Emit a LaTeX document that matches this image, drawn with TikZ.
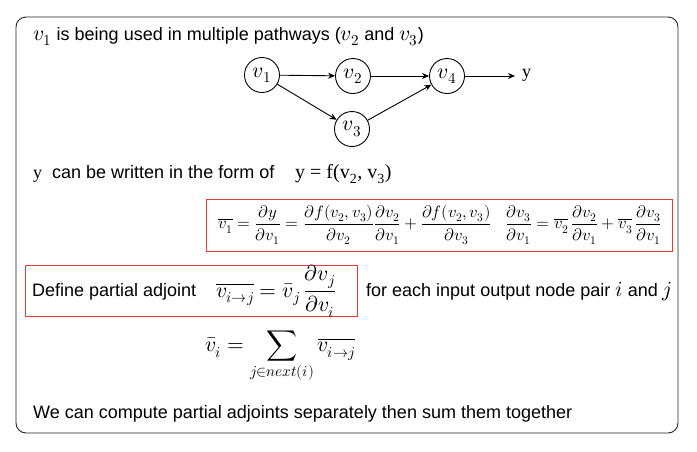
\documentclass[tikz,border=0pt]{standalone}
\usepackage{amsmath}
\usepackage{fontspec}
\usepackage{unicode-math}
\setmainfont{Liberation Sans}
\setmathfont{Latin Modern Math}[Scale=1.2]
\newfontfamily\serifrm{Liberation Serif}
\usepackage{tikz}
\usetikzlibrary{arrows.meta,positioning}
\definecolor{boxred}{RGB}{232,58,58}
\newcommand{\pdv}[2]{\dfrac{\partial #1}{\partial #2}}
\newcommand{\eqone}{$\overline{v_1} = \pdv{y}{v_1} = \pdv{f(v_2,v_3)}{v_2}\pdv{v_2}{v_1} + \pdv{f(v_2,v_3)}{v_3}\quad\pdv{v_3}{v_1} = \overline{v_2}\,\pdv{v_2}{v_1} + \overline{v_3}\,\pdv{v_3}{v_1}$}

\begin{document}
\begin{tikzpicture}[x=1pt,y=-1pt,font=\fontsize{18}{21}\selectfont,
  vnode/.style={draw,circle,minimum size=35pt,inner sep=0pt,line width=0.9pt},
  edge/.style={-{Stealth[length=7pt,width=6pt]},line width=0.9pt},
  txt/.style={anchor=base west,inner sep=0pt},
  redbox/.style={draw=boxred,line width=1pt},
  eqsmall/.style={font=\fontsize{13.8}{16}\selectfont}]
 \useasboundingbox (0,0) rectangle (697,451);
 %frame
 \draw[rounded corners=10pt,line width=0.9pt,draw=black!85] (16,17) rectangle (678,433);
 \node[txt] (L1) at (33,40) {$v_1$ is being used in multiple pathways ($v_2$ and $v_3$)};
 %graph
 \node[vnode] (v1) at (262,75) {$v_1$};
 \node[vnode] (v2) at (353,76) {$v_2$};
 \node[vnode] (v4) at (447,76) {$v_4$};
 \node[vnode] (v3) at (352,129) {$v_3$};
 \coordinate (Y) at (515,76);
 \node[anchor=west,inner sep=0pt] (y) at (522,75) {\serifrm y};
 \draw[edge] (v1) -- (v2);
 \draw[edge] (v2) -- (v4);
 \draw[edge] (v1) -- (v3);
 \draw[edge] (v3) -- (v4);
 \draw[edge] (v4) -- (Y);
 %form of y
 \node[txt] (L2) at (33,178) {{\serifrm y}\ \ can be written in the form of};
 \node[txt,font=\fontsize{20}{24}\selectfont\serifrm] (F) at (295,178) {y = f(v\textsubscript{2}, v\textsubscript{3})};
 %first red box
 \draw[redbox] (206,199) rectangle (672,251);
 \node[eqsmall] (E1) at (440,225) {\eqone};
 %partial adjoint
 \draw[redbox] (25,265) rectangle (357,316);
 \node[txt] (L3) at (32,296) {Define partial adjoint};
 \node[anchor=west,inner sep=0pt] (E2) at (216,291) {$\overline{v_{i\to j}} = \bar{v}_j\, \pdv{v_j}{v_i}$};
 \node[txt] (L4) at (366,296) {for each input output node pair $i$ and $j$};
 %sum
 \node[anchor=west,inner sep=0pt] (E3) at (205,357) {$\bar{v}_i = \displaystyle\sum_{j\in next(i)} \overline{v_{i\to j}}$};
 \node[txt] (L5) at (33,418) {We can compute partial adjoints separately then sum them together};
\end{tikzpicture}
\end{document}
